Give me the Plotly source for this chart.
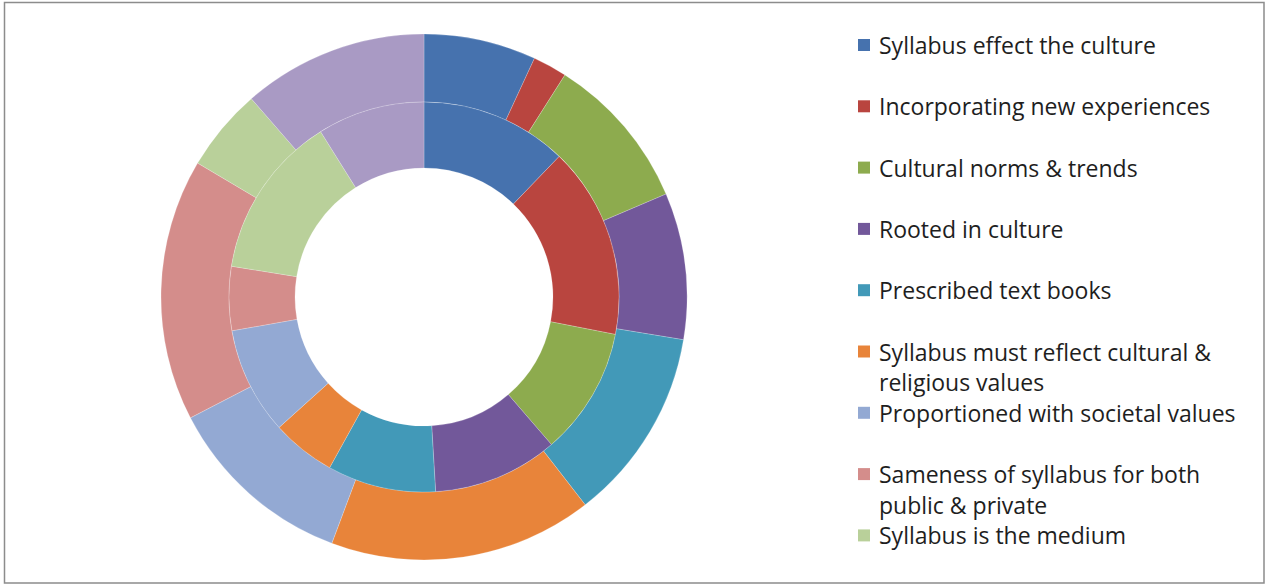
import plotly.graph_objects as go

# ---- data ----
categories = [
    "Syllabus effect the culture",
    "Incorporating new experiences",
    "Cultural norms & trends",
    "Rooted in culture",
    "Prescribed text books",
    "Syllabus must reflect cultural & religious values",
    "Proportioned with societal values",
    "Sameness of syllabus for both public & private",
    "Syllabus is the medium",
    "Other",
]
legend_lines = [
    ["Syllabus effect the culture"],
    ["Incorporating new experiences"],
    ["Cultural norms & trends"],
    ["Rooted in culture"],
    ["Prescribed text books"],
    ["Syllabus must reflect cultural &", "religious values"],
    ["Proportioned with societal values"],
    ["Sameness of syllabus for both", "public & private"],
    ["Syllabus is the medium"],
]
outer_values = [6.9, 2.1, 9.6, 9.0, 11.9, 16.2, 11.7, 16.1, 5.1, 11.4]
inner_values = [12.2, 15.9, 10.6, 10.4, 9.0, 5.3, 8.9, 5.3, 13.6, 8.9]

colors = ["#4672AE", "#B9453F", "#8DAB4E", "#72589A", "#4299B8",
          "#E8843A", "#93A9D3", "#D48D8B", "#B9D09A", "#A99AC4"]

W, H = 1267, 586
cx, cy = 424, 297           # pixel centre of the donut
r_out, r_mid, r_in = 263, 195, 129


def dom(r):
    return dict(x=[(cx - r) / W, (cx + r) / W],
                y=[1 - (cy + r) / H, 1 - (cy - r) / H])


line_style = dict(color="rgba(255,255,255,0.35)", width=0.6)
fig = go.Figure()
fig.add_trace(go.Pie(
    labels=categories, values=outer_values, sort=False, direction="clockwise",
    rotation=0, hole=r_mid / r_out, domain=dom(r_out), textinfo="none",
    marker=dict(colors=colors, line=line_style),
    showlegend=False, name="Outer"))
fig.add_trace(go.Pie(
    labels=categories, values=inner_values, sort=False, direction="clockwise",
    rotation=0, hole=r_in / r_mid, domain=dom(r_mid), textinfo="none",
    marker=dict(colors=colors, line=line_style),
    showlegend=False, name="Inner"))

# ---- manual legend ----
font = dict(family="Open Sans", size=23, color="#1e1e1e")
y0, step, lstep = 45, 61.3, 30.5
shapes = []
annotations = []
for i, lines in enumerate(legend_lines):
    yc = y0 + step * i
    shapes.append(dict(type="rect", xref="paper", yref="paper",
                       x0=858 / W, x1=870 / W,
                       y0=1 - (yc + 6) / H, y1=1 - (yc - 6) / H,
                       fillcolor=colors[i], line=dict(width=0)))
    for j, t in enumerate(lines):
        annotations.append(dict(text=t, xref="paper", yref="paper",
                                x=877 / W, y=1 - (yc + j * lstep) / H,
                                xanchor="left", yanchor="middle",
                                showarrow=False, font=font))

# border
shapes.append(dict(type="rect", xref="paper", yref="paper",
                   x0=4.5 / W, x1=1264 / W, y0=1 - 583 / H, y1=1 - 2.5 / H,
                   line=dict(color="#8c8c8c", width=1.5), fillcolor="rgba(0,0,0,0)"))

fig.update_layout(width=W, height=H, margin=dict(l=0, r=0, t=0, b=0),
                  paper_bgcolor="white", plot_bgcolor="white",
                  shapes=shapes, annotations=annotations, showlegend=False)

fig.write_html("out.html")
